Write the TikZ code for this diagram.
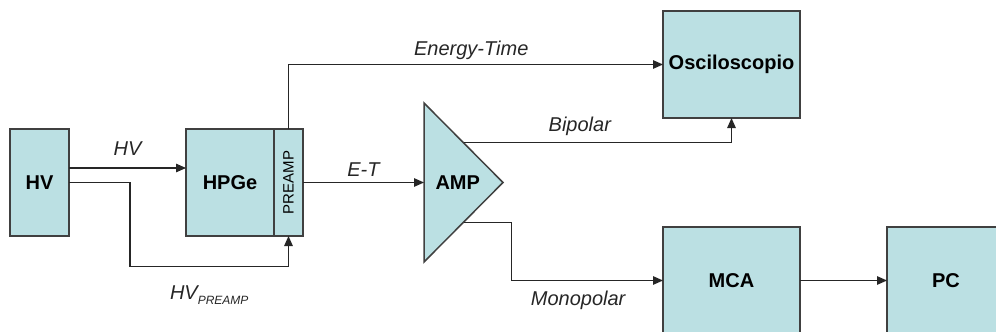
\documentclass[tikz,border=0pt]{standalone}
\usepackage{fontspec}
\setmainfont{Liberation Sans}
\usetikzlibrary{shapes.geometric, arrows.meta, positioning, calc}
\definecolor{boxfill}{HTML}{BBE0E3}
\definecolor{boxline}{HTML}{404040}
\definecolor{wireline}{HTML}{262626}

\begin{document}
\begin{tikzpicture}[
    x=1pt, y=-1pt,
    blocknode/.style={draw=boxline, fill=boxfill, line width=1.5pt, minimum height=107pt,
                      inner sep=0pt, outer sep=0pt, font=\fontsize{20}{24}\selectfont\bfseries},
    ampnode/.style={isosceles triangle, isosceles triangle stretches, draw=boxline, fill=boxfill,
                    line width=1.5pt, minimum width=159pt, minimum height=79pt, inner sep=0pt,
                    outer sep=0pt, font=\fontsize{20}{24}\selectfont\bfseries},
    conn/.style={-{Triangle[length=10pt, width=8.5pt]}, line width=1.3pt, wireline},
    sig/.style={font=\fontsize{20}{24}\selectfont\itshape, inner sep=2pt, text depth=0pt}
]
    \useasboundingbox (0,0) rectangle (996,332);

    \node[blocknode, minimum width=59pt] (hv) at (39.5,182.5) {HV};
    \node[blocknode, minimum width=88pt, right=117pt of hv] (hpge) {HPGe};
    \node[blocknode, minimum width=29pt, right=0pt of hpge, font=\fontsize{15}{18}\selectfont] (preamp) {\rotatebox{90}{PREAMP}};
    \node[ampnode, right=121pt of preamp] (amp) {AMP};
    \node[blocknode, minimum width=137pt] (mca) at (731.5,280.5) {MCA};
    \node[blocknode, minimum width=137pt, above=109pt of mca] (osc) {Osciloscopio};
    \node[blocknode, minimum width=118pt, right=87pt of mca] (pc) {PC};

    \draw[conn] ([yshift=14.5pt]hv.east) -- node[sig, above=9.5pt] {HV} ([yshift=14.5pt]hpge.west);
    \draw[conn] (hv.east) -- ++(61,0) -- ++(0,84) -| node[sig, pos=0.25, below=17pt] {HV\raisebox{-5pt}{\fontsize{12}{14}\selectfont PREAMP}} (preamp.south);
    \draw[conn] (preamp.north) |- node[sig, pos=0.744, above=6pt] {Energy-Time} (osc.west);
    \draw[conn] (preamp.east) -- node[sig, above=3.5pt] {E-T} (amp.west);
    \draw[conn] (amp.left side) -| node[sig, pos=0.217, above=8.5pt] {Bipolar} (osc.south);
    \draw[conn] (amp.right side) -- ++(48,0) |- node[sig, pos=0.72, below=8pt] {Monopolar} (mca.west);
    \draw[conn] (mca) -- (pc);
\end{tikzpicture}
\end{document}
